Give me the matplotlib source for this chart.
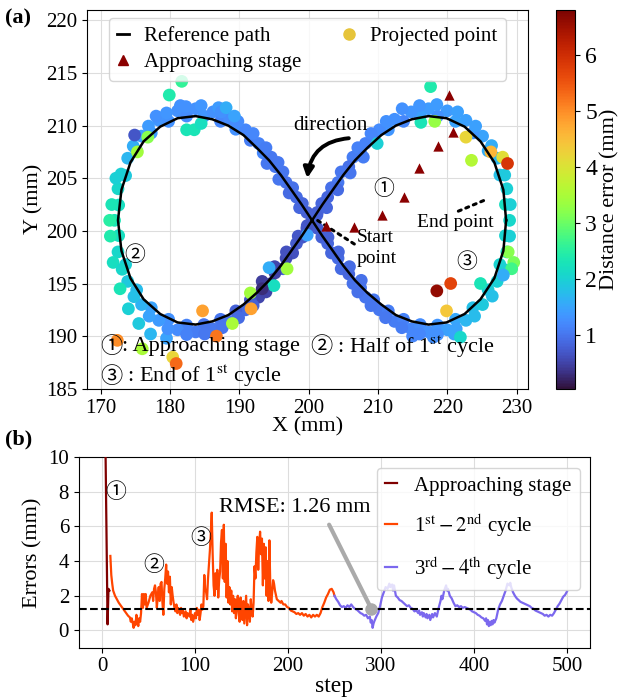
import matplotlib
matplotlib.use('Agg')
import matplotlib.pyplot as plt
from matplotlib.lines import Line2D

plt.rcParams['font.family'] = ['Liberation Serif', 'Noto Sans CJK JP']
plt.rcParams['mathtext.fontset'] = 'stix'

# ---------------- (a) trayectoria ----------------
# camino de referencia (lemniscata)
path_x = [228.5, 228.1, 226.8, 224.8, 222.5, 219.9, 217.3, 214.9, 212.6, 210.5, 208.5, 206.7, 205.0, 203.5, 202.0,
          200.5, 199.0, 197.5, 196.0, 194.3, 192.5, 190.6, 188.4, 186.1, 183.7, 181.1, 178.6, 176.2, 174.3, 173.0,
          172.5, 173.0, 174.3, 176.2, 178.6, 181.1, 183.7, 186.1, 188.4, 190.6, 192.5, 194.3, 196.0, 197.5, 199.0,
          200.5, 202.0, 203.5, 205.0, 206.7, 208.5, 210.5, 212.6, 214.9, 217.3, 219.9, 222.5, 224.8, 226.8, 228.1, 228.5]
path_y = [201.0, 203.9, 206.5, 208.5, 209.9, 210.7, 210.9, 210.6, 210.0, 209.1, 207.9, 206.7, 205.3, 203.9, 202.5,
          201.0, 199.5, 198.1, 196.7, 195.3, 194.1, 193.0, 192.0, 191.4, 191.1, 191.3, 192.1, 193.5, 195.5, 198.1,
          201.0, 203.9, 206.5, 208.5, 209.9, 210.7, 210.9, 210.6, 210.0, 209.1, 207.9, 206.7, 205.3, 203.9, 202.5,
          201.0, 199.5, 198.1, 196.7, 195.3, 194.1, 193.0, 192.0, 191.4, 191.1, 191.3, 192.1, 193.5, 195.5, 198.1, 201.0]

# puntos proyectados sobre la banda del camino
band_x = [229.0, 228.4, 228.6, 227.6, 227.2, 225.9, 225.1, 223.7, 222.7, 221.2, 220.0, 218.6, 217.3, 216.1, 214.8, 213.7,
          212.4, 211.5, 210.2, 209.4, 208.2, 207.5, 206.4, 205.8, 204.7, 204.25, 203.3, 202.75, 201.9, 201.25, 200.5, 199.75,
          199.1, 198.25, 197.7, 196.75, 196.3, 195.15, 194.6, 193.45, 192.8, 191.6, 190.9, 189.5, 188.6, 187.3, 186.2, 184.9,
          183.7, 182.4, 181.1, 179.8, 178.4, 177.3, 175.9, 175.2, 173.9, 173.6, 172.5, 172.6, 172.0, 172.6, 172.5, 173.6,
          173.9, 175.2, 175.9, 177.3, 178.4, 179.8, 181.1, 182.4, 183.7, 184.9, 186.2, 187.3, 188.6, 189.5, 190.9, 191.6,
          192.8, 193.45, 194.6, 195.2, 196.3, 196.75, 197.7, 198.25, 199.1, 199.75, 200.8, 201.25, 201.9, 202.75, 203.3, 204.25,
          204.7, 205.8, 206.4, 207.5, 208.2, 209.4, 210.2, 211.5, 212.4, 213.7, 214.8, 216.1, 217.3, 218.6, 220.0, 221.2,
          222.7, 223.7, 225.1, 225.9, 227.2, 227.6, 228.6, 228.4,
          171.4, 171.6, 171.8, 172.2, 172.8, 174.0, 175.5, 177.2, 179.5, 171.3, 181.5, 184.5, 187.0, 178.0,
          216.0, 218.5, 213.5, 221.5, 215.0, 218.0, 221.0, 229.1, 229.0, 226.5, 228.3, 201.2, 199.8]
band_y = [201.0, 202.5, 204.0, 205.3, 206.9, 207.6, 209.0, 209.3, 210.5, 210.4, 211.4, 210.9, 211.6, 210.9, 211.3, 210.4,
          210.6, 209.6, 209.6, 208.6, 208.3, 207.4, 207.0, 206.1, 205.6, 204.6, 204.1, 203.2, 202.6, 201.75, 201.0, 200.25,
          199.4, 198.8, 197.9, 197.4, 196.4, 196.0, 195.0, 194.6, 193.7, 193.45, 192.5, 192.4, 191.4, 191.6, 190.7, 191.1,
          190.4, 191.05, 190.6, 191.6, 191.5, 192.7, 193.0, 194.4, 195.2, 196.8, 198.0, 199.55, 201.0, 202.45, 204.0, 205.25,
          206.9, 207.6, 209.0, 209.3, 210.5, 210.4, 211.4, 210.9, 211.6, 210.9, 211.3, 210.4, 210.6, 209.65, 209.6, 208.6,
          208.3, 207.4, 207.0, 206.1, 205.6, 204.6, 204.1, 203.2, 202.6, 201.75, 201.2, 200.25, 199.4, 198.8, 197.9, 197.4,
          196.4, 195.9, 195.0, 194.6, 193.7, 193.45, 192.5, 192.4, 191.4, 191.6, 190.7, 191.1, 190.4, 191.05, 190.6, 191.6,
          191.5, 192.7, 193.0, 194.4, 195.2, 196.8, 198.0, 199.55,
          199.5, 202.5, 197.0, 205.0, 194.5, 192.6, 191.2, 190.2, 189.8, 201.0, 211.9, 211.9, 211.7, 210.9,
          211.9, 212.0, 211.6, 211.3, 190.0, 189.9, 190.2, 202.5, 199.5, 193.8, 205.3, 201.5, 200.5]
band_err = [2.1, 2.2, 2.0, 1.8, 1.7, 1.6, 1.5, 1.35, 1.45, 1.5, 1.4, 1.3, 1.4, 1.45, 1.35, 1.2,
            1.3, 1.35, 1.25, 1.1, 1.15, 1.2, 1.1, 0.95, 1.0, 1.05, 0.95, 0.85, 0.85, 0.8, 0.75, 0.7,
            0.7, 0.75, 0.65, 0.6, 0.8, 0.5, 0.4, 0.35, 0.55, 0.7, 0.9, 0.8, 0.95, 1.0, 1.05, 1.0,
            1.1, 1.15, 1.25, 1.3, 1.4, 1.5, 1.65, 1.75, 1.9, 2.0, 2.1, 2.2, 2.3, 2.2, 2.1, 1.9,
            1.7, 1.55, 1.45, 1.4, 1.35, 1.3, 1.3, 1.25, 1.3, 1.35, 1.3, 1.2, 1.25, 1.3, 1.2, 1.1,
            1.15, 1.2, 1.05, 1.0, 1.0, 0.95, 0.95, 0.9, 0.85, 0.8, 0.8, 0.75, 0.8, 0.85, 0.85, 0.9,
            0.9, 0.85, 0.95, 1.0, 1.0, 1.05, 1.05, 1.1, 1.1, 1.15, 1.2, 1.25, 1.3, 1.35, 1.45, 1.55,
            1.7, 1.8, 1.9, 1.95, 2.0, 2.05, 2.1, 2.05,
            2.4, 2.3, 2.2, 2.0, 2.3, 2.0, 1.9, 1.7, 1.5, 2.5, 1.3, 1.35, 1.4, 1.3,
            1.35, 1.4, 1.3, 1.45, 1.2, 1.3, 1.5, 2.0, 2.0, 1.8, 1.9, 0.8, 0.7]

# fila exterior de la banda y cruce central
outer_x = [226.4, 224.1, 211.2, 209.0, 207.1,
           193.85, 192.0, 189.9, 187.55, 185.0, 182.4, 179.7, 177.0, 174.8, 173.1,
           172.95, 174.7, 176.9, 179.5, 182.3, 187.4, 189.8, 192.0, 193.85, 195.6,
           207.1, 209.0, 211.1, 213.45, 216.0, 218.6, 221.3, 223.95, 228.1,
           202.6, 204.2, 206.0, 207.9, 198.5, 196.8, 195.1, 193.3,
           194.0, 195.7, 197.2, 198.7, 202.8, 204.3, 205.9, 207.6]
outer_y = [208.1, 209.95, 210.4, 209.25, 207.9,
           194.2, 192.9, 191.75, 190.8, 190.2, 190.15, 190.7, 191.9, 193.75, 196.35,
           205.4, 208.05, 209.95, 211.2, 211.8, 211.3, 210.4, 209.25, 207.9, 206.5,
           194.2, 192.9, 191.75, 190.8, 190.2, 190.15, 190.7, 191.9, 196.35,
           202.2, 203.9, 205.5, 207.0, 199.5, 198.0, 196.6, 195.2,
           206.4, 204.9, 203.6, 202.2, 199.4, 198.0, 196.6, 195.3]
outer_err = [1.6, 1.45, 1.3, 1.2, 1.15,
             0.5, 0.8, 0.9, 1.0, 1.05, 1.15, 1.3, 1.5, 1.8, 2.1,
             2.0, 1.6, 1.4, 1.35, 1.3, 1.3, 1.25, 1.2, 1.1, 1.05,
             0.95, 1.0, 1.05, 1.1, 1.2, 1.3, 1.5, 1.75, 2.0,
             0.85, 0.9, 1.0, 1.1, 0.7, 0.65, 0.55, 0.45,
             1.05, 1.0, 0.9, 0.85, 0.8, 0.85, 0.9, 0.95]

# puntos alejados del camino
far_x = [181.7, 179.9, 182.4, 183.5, 184.5, 188.1, 189.3, 175.3, 176.8, 174.9,
         217.6, 216.2, 218.2, 222.7, 226.3, 228.0, 228.7, 223.5, 209.9,
         218.5, 220.5, 219.9, 221.9, 224.8, 228.8, 229.6, 229.3, 228.1,
         184.7, 172.4, 180.4, 180.9, 176.0, 186.7, 191.7, 191.6, 189.0, 196.9, 195.0, 194.3, 193.3, 199.8]
far_y = [214.2, 212.9, 209.6, 209.6, 210.2, 211.7, 210.9, 207.5, 208.9, 209.1,
         213.7, 210.3, 210.4, 208.9, 207.5, 207.0, 206.4, 206.7, 208.3,
         194.3, 195.0, 192.4, 189.9, 195.0, 198.0, 197.0, 196.4, 195.8,
         192.4, 189.6, 188.0, 187.4, 188.8, 190.0, 192.6, 194.1, 191.2, 196.4, 194.8, 196.5, 194.5, 199.6]
far_err = [2.6, 2.4, 2.3, 2.3, 2.2, 1.6, 1.5, 3.4, 3.2, 0.7,
           2.4, 2.3, 3.3, 4.2, 4.6, 4.1, 5.9, 3.6, 2.0,
           6.6, 5.7, 4.4, 2.1, 2.3, 3.2, 3.1, 2.7, 1.6,
           4.8, 5.0, 4.2, 5.3, 3.5, 5.2, 4.8, 3.4, 3.5, 3.4, 2.2, 1.6, 0.3, 1.5]

# etapa de aproximacion
appr_x = [202.5, 206.6, 210.6, 213.7, 215.9, 218.6, 220.9, 220.2]
appr_y = [200.5, 200.4, 201.5, 203.2, 206.0, 208.1, 209.4, 212.9]

# ---------------- (b) errores ----------------
approach_step = [3, 6, 7, 8]
approach_err = [14.0, 0.35, 2.4, 2.3]

cyc12_step = [9, 10, 11, 12, 14, 16, 18, 20, 22, 24, 26, 28, 30,
              31, 32, 33, 34, 35, 36, 37, 38, 39, 40, 41, 42, 43, 44, 45, 46, 47, 48,
              50, 52, 54,
              55, 56, 57, 58, 59, 60, 61, 62, 63, 64, 65, 66, 67, 68, 69, 70, 71, 72, 73, 74, 75, 76, 77, 78, 79, 80, 81, 82,
              84, 85, 86, 87, 88, 90, 91, 92, 94, 95, 96, 97, 98,
              100, 101, 102, 103, 104, 105, 106, 107, 108, 109, 110, 111, 112, 113, 114, 115, 116, 117, 118, 119,
              120, 121, 122, 123, 124, 125, 126, 127, 128, 129, 130, 131, 132, 133, 134, 135, 136, 137, 138, 139,
              140, 141, 142, 143, 144, 145, 146, 147, 148, 149, 150, 151, 152, 153, 154, 155, 156, 157, 158, 159,
              160, 161, 162, 163, 164, 165, 166, 167, 168, 169, 170, 171, 172, 173, 174, 175, 176, 177, 178, 179,
              180, 181, 182, 183, 184, 185, 186,
              188, 190, 192, 193,
              195, 197, 199, 201, 203, 205, 207, 209, 211, 213, 215, 217, 219, 221, 223, 225, 227, 229, 231, 233,
              235, 237, 239, 241, 243, 245, 247, 249, 250]
cyc12_err = [4.3, 3.2, 2.7, 2.3, 2.0, 1.8, 1.6, 1.45, 1.3, 1.15, 1.0, 0.85, 0.75,
             0.5, 0.7, 0.45, 0.15, 0.5, 0.3, 0.9, 0.6, 0.25, 0.7, 0.5, 1.0, 2.1, 1.3, 2.1, 1.5, 2.1, 1.3,
             1.6, 2.0, 2.2,
             1.7, 2.4, 2.6, 2.2, 1.3, 2.0, 2.5, 1.7, 2.7, 2.8, 1.6, 0.9, 2.4, 3.0, 3.8, 2.7, 3.4, 2.2, 3.1, 1.5, 2.5, 2.0, 1.6, 1.3, 1.1, 1.5, 1.0, 1.3,
             0.9, 1.3, 1.0, 1.2, 0.8, 1.1, 0.7, 1.0, 0.8, 1.2, 0.6, 0.9, 0.5,
             1.0, 0.7, 1.3, 0.9, 1.2, 0.6, 1.0, 1.5, 1.2, 1.4, 3.2, 2.4, 2.2, 1.8, 3.0, 3.8, 4.6, 5.6, 6.8, 4.4,
             2.6, 2.0, 3.3, 2.4, 3.5, 1.9, 2.9, 3.4, 5.1, 5.8, 3.0, 6.1, 2.8, 5.0, 1.9, 4.0, 1.6, 2.5, 1.5, 2.3,
             1.1, 2.0, 1.0, 1.8, 0.7, 1.5, 2.0, 1.0, 0.5, 1.9, 1.0, 0.6, 1.7, 0.4, 1.2, 2.0, 0.3, 1.5, 1.0, 0.5,
             1.8, 1.1, 0.8, 1.6, 3.7, 3.0, 4.5, 5.4, 3.5, 5.0, 5.7, 4.4, 5.3, 2.6, 5.0, 3.0, 4.8, 2.0, 4.0, 1.7,
             5.2, 2.5, 1.6, 2.2, 2.9, 2.7, 2.3,
             1.8, 1.7, 1.6, 1.7,
             1.5, 1.5, 1.35, 1.3, 1.15, 1.1, 1.05, 0.95, 1.0, 0.9, 1.0, 0.85, 0.95, 0.8, 0.9, 0.75, 0.9, 0.8, 0.9, 0.8,
             1.0, 1.35, 1.6, 1.9, 2.1, 2.35, 2.4, 2.2, 2.0]

cyc34_step = [250, 252, 254, 256, 258, 260, 262, 264, 266, 268, 270, 272, 274, 276, 278, 280, 282, 284, 286, 288,
              289, 290, 291, 292, 293, 295, 297, 299, 301, 303, 305, 307, 309,
              310, 312, 313, 314, 316, 318, 320, 322, 324, 326, 328, 330, 332, 334, 336, 338, 340,
              341, 342, 344, 345, 346, 348, 349, 350, 352, 353, 355, 356, 358, 360, 362, 364, 365, 366, 368, 370,
              371, 372, 374, 376, 378, 380,
              382, 384, 386, 388, 390, 392, 394, 396, 398, 400, 402, 404, 406, 408, 410, 412,
              413, 414, 415, 416, 417, 418, 419, 420, 421, 422,
              424, 426, 428, 430, 432, 434, 436, 438,
              439, 440, 442, 444, 446, 448, 450, 452, 454, 456, 458, 460, 462, 464, 466, 468, 470, 472, 474, 476,
              478, 480, 482, 484, 486, 488, 490, 492, 494, 496, 498, 500]
cyc34_err = [2.0, 1.8, 1.65, 1.45, 1.35, 1.4, 1.3, 1.45, 1.35, 1.5, 1.35, 1.25, 1.2, 1.1, 1.0, 0.95, 0.85, 0.9, 0.7, 0.8,
             0.45, 0.6, 0.15, 0.4, 0.55, 0.8, 1.0, 1.4, 1.9, 2.2, 2.5, 2.4, 2.7,
             2.5, 2.65, 2.3, 2.6, 2.0, 1.9, 1.75, 1.7, 1.6, 1.5, 1.4, 1.45, 1.3, 1.25, 1.1, 1.15, 1.0,
             1.15, 0.9, 1.05, 0.8, 1.0, 0.75, 0.95, 0.7, 0.9, 0.6, 0.95, 0.75, 1.0, 0.8, 1.3, 1.7, 2.0, 1.8, 2.3, 2.6,
             2.3, 2.4, 2.0, 1.85, 1.6, 1.4,
             1.45, 1.35, 1.4, 1.3, 1.35, 1.3, 1.25, 1.2, 1.1, 1.05, 1.0, 0.9, 0.85, 0.75, 0.7, 0.55,
             0.7, 0.35, 0.6, 0.25, 0.5, 0.3, 0.55, 0.35, 0.6, 0.45,
             0.7, 1.2, 1.5, 1.7, 2.0, 2.3, 2.7, 2.6,
             2.75, 2.5, 2.2, 2.0, 1.85, 1.75, 1.65, 1.6, 1.55, 1.5, 1.45, 1.4, 1.3, 1.25, 1.15, 1.1, 1.05, 1.0, 0.95, 0.85,
             0.9, 0.8, 0.9, 0.85, 1.0, 1.2, 1.4, 1.55, 1.75, 1.95, 2.05, 2.25]

rmse = 1.26
rmse_step = 289.5

fig = plt.figure(figsize=(6.2, 6.98), dpi=100)
ax1 = fig.add_axes([0.140, 0.443, 0.711, 0.543])
cax = fig.add_axes([0.897, 0.443, 0.031, 0.543])
ax2 = fig.add_axes([0.127, 0.072, 0.825, 0.273])

# --- grafico (a)
pts_x = band_x + outer_x + far_x
pts_y = band_y + outer_y + far_y
pts_err = band_err + outer_err + far_err
sc = ax1.scatter(pts_x, pts_y, c=pts_err, cmap='turbo', vmin=0.05, vmax=6.8,
                 s=84, linewidths=0, zorder=2)
ax1.plot(path_x, path_y, color='black', lw=1.8, zorder=3)
ax1.scatter(appr_x, appr_y, marker='^', color='#8b0000', s=55, linewidths=0, zorder=4)

ax1.set_xlim(168, 231.6)
ax1.set_ylim(185, 221)
ax1.set_xticks([170, 180, 190, 200, 210, 220, 230])
ax1.set_yticks([185, 190, 195, 200, 205, 210, 215, 220])
ax1.grid(True, color='#dddddd', lw=0.8)
ax1.set_axisbelow(True)
ax1.tick_params(labelsize=15)
ax1.set_xlabel('X (mm)', fontsize=16, labelpad=0)
ax1.set_ylabel('Y (mm)', fontsize=16, labelpad=2)

handles = [Line2D([], [], color='black', lw=2),
           Line2D([], [], marker='^', color='#8b0000', ls='none', ms=7),
           Line2D([], [], marker='o', color='#e6c43a', ls='none', ms=8)]
ax1.legend(handles, ['Reference path', 'Approaching stage', 'Projected point'], ncol=2, loc='upper center',
           fontsize=15, handlelength=0.6, handletextpad=0.7, columnspacing=2.0, labelspacing=0.3,
           borderaxespad=0.4)

# flecha de direccion
ax1.annotate('', xy=(199.8, 205.0), xytext=(205.8, 208.8),
             arrowprops=dict(arrowstyle='-|>,head_length=0.6,head_width=0.3', color='black', lw=2.8,
                             connectionstyle='arc3,rad=0.4', shrinkA=0, shrinkB=0))
ax1.text(203.1, 210.05, 'direction', ha='center', va='center', fontsize=15)

# punto inicial y final
ax1.annotate('Start\npoint', xy=(200.8, 201.2), xytext=(207.0, 198.4), fontsize=14, ha='left', va='center',
             linespacing=1.3,
             arrowprops=dict(arrowstyle='-', ls=':', lw=2.2, color='black', relpos=(0, 0.55),
                             shrinkA=0, shrinkB=0))
ax1.annotate('End point', xy=(225.7, 203.0), xytext=(221.2, 200.8), fontsize=14, ha='center', va='center',
             arrowprops=dict(arrowstyle='-', ls=':', lw=2.2, color='black', relpos=(0.45, 1.0),
                             shrinkA=0, shrinkB=0))

cjk = 'Noto Sans CJK JP'
ax1.text(210.9, 204.0, '①', fontsize=15, family=cjk, ha='center', va='center')
ax1.text(174.9, 197.7, '②', fontsize=15, family=cjk, ha='center', va='center')
ax1.text(222.8, 197.0, '③', fontsize=15, family=cjk, ha='center', va='center')

t1 = ax1.text(169.9, 189.0, '①', fontsize=16, family=cjk, ha='left', va='center', zorder=5)
ax1.annotate(': Approaching stage', xy=(1, 0.5), xycoords=t1, fontsize=16, va='center', zorder=5)
t2 = ax1.text(200.2, 189.0, '②', fontsize=16, family=cjk, ha='left', va='center', zorder=5)
ax1.annotate(r' : Half of 1$^{\rm st}$ cycle', xy=(1, 0.5), xycoords=t2, fontsize=16, va='center', zorder=5)
t3 = ax1.text(169.9, 186.2, '③', fontsize=16, family=cjk, ha='left', va='center', zorder=5)
ax1.annotate(r' : End of 1$^{\rm st}$ cycle', xy=(1, 0.5), xycoords=t3, fontsize=16, va='center', zorder=5)

cb = fig.colorbar(sc, cax=cax, ticks=[1, 2, 3, 4, 5, 6])
cb.ax.tick_params(labelsize=17)
cb.set_label('Distance error (mm)', fontsize=16, labelpad=2)

# --- grafico (b)
ax2.plot(approach_step, approach_err, color='#7f0000', lw=1.6, label='Approaching stage', zorder=3)
ax2.plot(cyc12_step, cyc12_err, color='#ff4500', lw=1.6, label=r'1$^{\rm st}-2^{\rm nd}$ cycle', zorder=3)
ax2.plot(cyc34_step, cyc34_err, color='#7b68ee', lw=1.6, label=r'3$^{\rm rd}-4^{\rm th}$ cycle', zorder=3)
ax2.axhline(rmse, color='black', ls='--', lw=1.5, zorder=4)

ax2.annotate(f'RMSE: {rmse:.2f} mm', xy=(rmse_step, rmse), xytext=(126, 7.1), fontsize=16, va='center',
             arrowprops=dict(arrowstyle='-', color='#aaaaaa', lw=3, relpos=(0.7, 0), shrinkA=4, shrinkB=0),
             zorder=5)
ax2.plot([rmse_step], [rmse], 'o', color='#aaaaaa', ms=8, zorder=6)

ax2.text(14.7, 8.0, '①', fontsize=15, family=cjk, ha='center', va='center')
ax2.text(55.3, 3.76, '②', fontsize=15, family=cjk, ha='center', va='center')
ax2.text(106.3, 5.36, '③', fontsize=15, family=cjk, ha='center', va='center')

ax2.set_xlim(-25, 525)
ax2.set_ylim(-1, 10)
ax2.set_xticks([0, 100, 200, 300, 400, 500])
ax2.set_yticks([0, 2, 4, 6, 8, 10])
ax2.grid(True, color='#dddddd', lw=0.8)
ax2.set_axisbelow(True)
ax2.tick_params(labelsize=15)
ax2.set_xlabel('step', fontsize=17, labelpad=0)
ax2.set_ylabel('Errors (mm)', fontsize=16)
ax2.legend(loc='upper right', fontsize=15, handlelength=0.6, handletextpad=0.8, labelspacing=0.75)

fig.text(0.008, 0.974, '(a)', fontsize=16, fontweight='bold', va='center')
fig.text(0.008, 0.370, '(b)', fontsize=16, fontweight='bold', va='center')

fig.savefig('out.png', dpi=100)
